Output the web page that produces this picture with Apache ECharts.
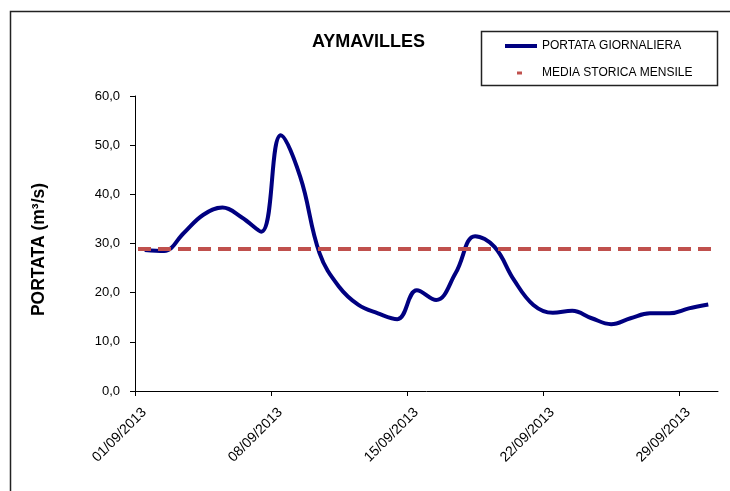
<!DOCTYPE html>
<html>
<head>
<meta charset="utf-8">
<script src="https://cdn.jsdelivr.net/npm/echarts@6/dist/echarts.min.js"></script>
<style>
  html, body { margin: 0; padding: 0; background: #fff; }
  #chart { width: 730px; height: 491px; }
</style>
</head>
<body>
<div id="chart"></div>
<script>
// giorni del mese (settembre 2013)
const giorni = [
  '01/09/2013', '02/09/2013', '03/09/2013', '04/09/2013', '05/09/2013',
  '06/09/2013', '07/09/2013', '08/09/2013', '09/09/2013', '10/09/2013',
  '11/09/2013', '12/09/2013', '13/09/2013', '14/09/2013', '15/09/2013',
  '16/09/2013', '17/09/2013', '18/09/2013', '19/09/2013', '20/09/2013',
  '21/09/2013', '22/09/2013', '23/09/2013', '24/09/2013', '25/09/2013',
  '26/09/2013', '27/09/2013', '28/09/2013', '29/09/2013', '30/09/2013'
]

// portata giornaliera (m3/s)
const portataGiornaliera = [
  28.7, 28.5, 32.1, 35.8, 37.3, 35.3, 32.4, 52.0, 43.6, 28.0,
  21.2, 17.5, 15.8, 14.6, 20.5, 18.5, 24.0, 31.5, 29.3, 22.6,
  17.5, 15.9, 16.3, 14.8, 13.6, 14.8, 15.8, 15.8, 16.8, 17.6
]

// media storica mensile
const mediaStorica = 28.9

// etichette asse x (ogni 7 giorni)
const tickGiorni = [0, 7, 14, 21, 28]
const tickLabels = ['01/09/2013', '08/09/2013', '15/09/2013', '22/09/2013', '29/09/2013']

const yTicks = [0, 10, 20, 30, 40, 50, 60]

const chart = echarts.init(document.getElementById('chart'))

// i punti stanno al centro di ogni giorno
const datiPortata = portataGiornaliera.map((v, i) => [i + 0.5, v])
const datiMedia = [[0, mediaStorica], [giorni.length, mediaStorica]]

const font = 'Liberation Sans, Arial, sans-serif'

// icone della legenda (riquadro 32x14)
const iconaLinea = 'path://M0,0 M32,14 M0,5 L32,5 L32,9 L0,9 Z'
const iconaTratto = 'path://M0,0 M32,14 M12,5.5 L17,5.5 L17,8.5 L12,8.5 Z'

const option = {
  animation: false,
  textStyle: { fontFamily: font },
  title: {
    text: 'AYMAVILLES',
    left: 307,
    top: 28,
    textStyle: { fontSize: 18, fontWeight: 'bold', color: '#000', fontFamily: font }
  },
  legend: {
    orient: 'vertical',
    left: 500,
    top: 34,
    itemWidth: 32,
    itemHeight: 14,
    itemGap: 13,
    textStyle: { fontSize: 12, color: '#000', fontFamily: font },
    data: [
      { name: 'PORTATA GIORNALIERA', icon: iconaLinea },
      { name: 'MEDIA STORICA MENSILE', icon: iconaTratto }
    ]
  },
  graphic: [
    {
      type: 'rect',
      shape: { x: 10.5, y: 11.5, width: 760, height: 520 },
      style: { fill: null, stroke: '#222', lineWidth: 1.5 },
      silent: true
    },
    {
      type: 'rect',
      shape: { x: 481.5, y: 31.5, width: 236, height: 54 },
      style: { fill: null, stroke: '#222', lineWidth: 1.5 },
      silent: true
    }
  ],
  grid: { left: 135, right: 12, top: 96, bottom: 100, containLabel: false },
  xAxis: {
    type: 'value',
    min: 0,
    max: giorni.length,
    interval: 7,
    axisLine: { lineStyle: { color: '#000', width: 1 } },
    axisTick: { show: true, length: 5, lineStyle: { color: '#000' }, customValues: tickGiorni },
    axisLabel: {
      customValues: tickGiorni,
      rotate: 45,
      margin: 10,
      verticalAlign: 'top',
      lineHeight: 26,
      fontSize: 14,
      color: '#000',
      fontFamily: font,
      formatter: (v) => tickLabels[tickGiorni.indexOf(Math.round(v))] || ''
    },
    splitLine: { show: false }
  },
  yAxis: {
    type: 'value',
    min: yTicks[0],
    max: yTicks[yTicks.length - 1],
    interval: 10,
    name: 'PORTATA (m³/s)',
    nameLocation: 'middle',
    nameGap: 87,
    nameRotate: 90,
    nameTextStyle: {
      fontSize: 17.5, fontWeight: 'bold', color: '#000', fontFamily: font,
      padding: [0, 12, 0, 0]
    },
    axisLine: { show: true, lineStyle: { color: '#000', width: 1 } },
    axisTick: { show: true, length: 5, lineStyle: { color: '#000' } },
    axisLabel: {
      margin: 15,
      fontSize: 13,
      color: '#000',
      fontFamily: font,
      formatter: (v) => v.toFixed(1).replace('.', ',')
    },
    splitLine: { show: false }
  },
  series: [
    {
      name: 'PORTATA GIORNALIERA',
      type: 'line',
      data: datiPortata,
      smooth: 0.4,
      symbol: 'none',
      lineStyle: { color: '#000080', width: 4 },
      itemStyle: { color: '#000080' },
      z: 3
    },
    {
      name: 'MEDIA STORICA MENSILE',
      type: 'line',
      data: datiMedia,
      symbol: 'none',
      lineStyle: { color: '#c0504d', width: 4, type: [13, 7], dashOffset: -3 },
      itemStyle: { color: '#c0504d' },
      z: 4
    }
  ]
}

chart.setOption(option)
</script>
</body>
</html>
